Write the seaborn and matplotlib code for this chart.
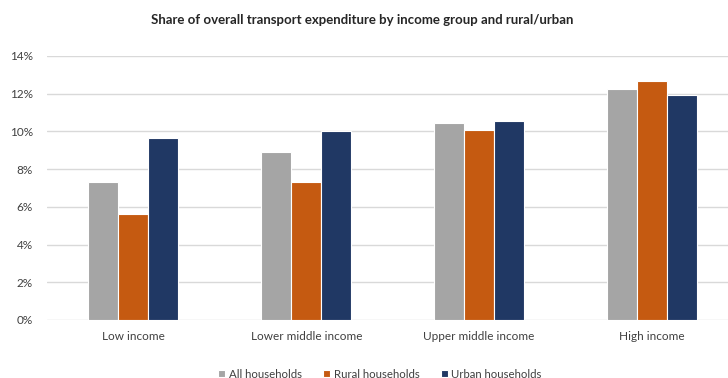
import matplotlib
matplotlib.use("Agg")
import matplotlib.pyplot as plt
import seaborn as sns
import pandas as pd
from matplotlib.ticker import FuncFormatter

# Income groups and household types
groups = ["Low income", "Lower middle income", "Upper middle income", "High income"]
series = ["All households", "Rural households", "Urban households"]

# Share of transport expenditure (%)
all_households = [7.3, 8.9, 10.45, 12.25]
rural_households = [5.6, 7.3, 10.05, 12.7]
urban_households = [9.65, 10.0, 10.57, 11.95]

colors = ["#A5A5A5", "#C55A11", "#203864"]

rows = []
for name, vals in zip(series, [all_households, rural_households, urban_households]):
    for g, v in zip(groups, vals):
        rows.append({"group": g, "series": name, "value": v})
df = pd.DataFrame(rows)

sns.set_theme(style="white")
plt.rcParams["font.family"] = ["Lato", "DejaVu Sans"]

fig = plt.figure(figsize=(7.28, 3.78), dpi=100)
ax = fig.add_axes([47 / 728, 1 - 320 / 378, 1 - 47 / 728, (320 - 56) / 378])

sns.barplot(data=df, x="group", y="value", hue="series", order=groups,
            hue_order=series, palette=colors, width=0.52, gap=0.0,
            edgecolor="white", linewidth=0.8, saturation=1, ax=ax,
            legend=True)

ax.set_ylim(0, 14)
ax.set_yticks(range(0, 15, 2))
ax.yaxis.set_major_formatter(FuncFormatter(lambda v, _: f"{v:.0f}%"))
ax.set_xlim(-0.5, 3.44)
ax.grid(axis="y", color="#D9D9D9", linewidth=1)
ax.set_axisbelow(True)
for s in ax.spines.values():
    s.set_visible(False)
ax.set_xlabel("")
ax.set_ylabel("")
ax.tick_params(axis="both", length=0, labelsize=8.5, colors="#404040")
ax.tick_params(axis="y", pad=10)
ax.tick_params(axis="x", pad=8)

handles, labels = ax.get_legend_handles_labels()
ax.legend_.remove()
fig.legend(handles, labels, loc="center", bbox_to_anchor=(380 / 728, 1 - 374 / 378),
           ncol=3, frameon=False, fontsize=8.2, handlelength=0.6, handleheight=0.6,
           handletextpad=0.3, columnspacing=1.9, labelcolor="#404040")

fig.text(362 / 728, 1 - 20 / 378,
         "Share of overall transport expenditure by income group and rural/urban",
         ha="center", va="center", fontsize=9.5, fontweight="bold", color="#262626")

fig.savefig("out.png", dpi=100)
